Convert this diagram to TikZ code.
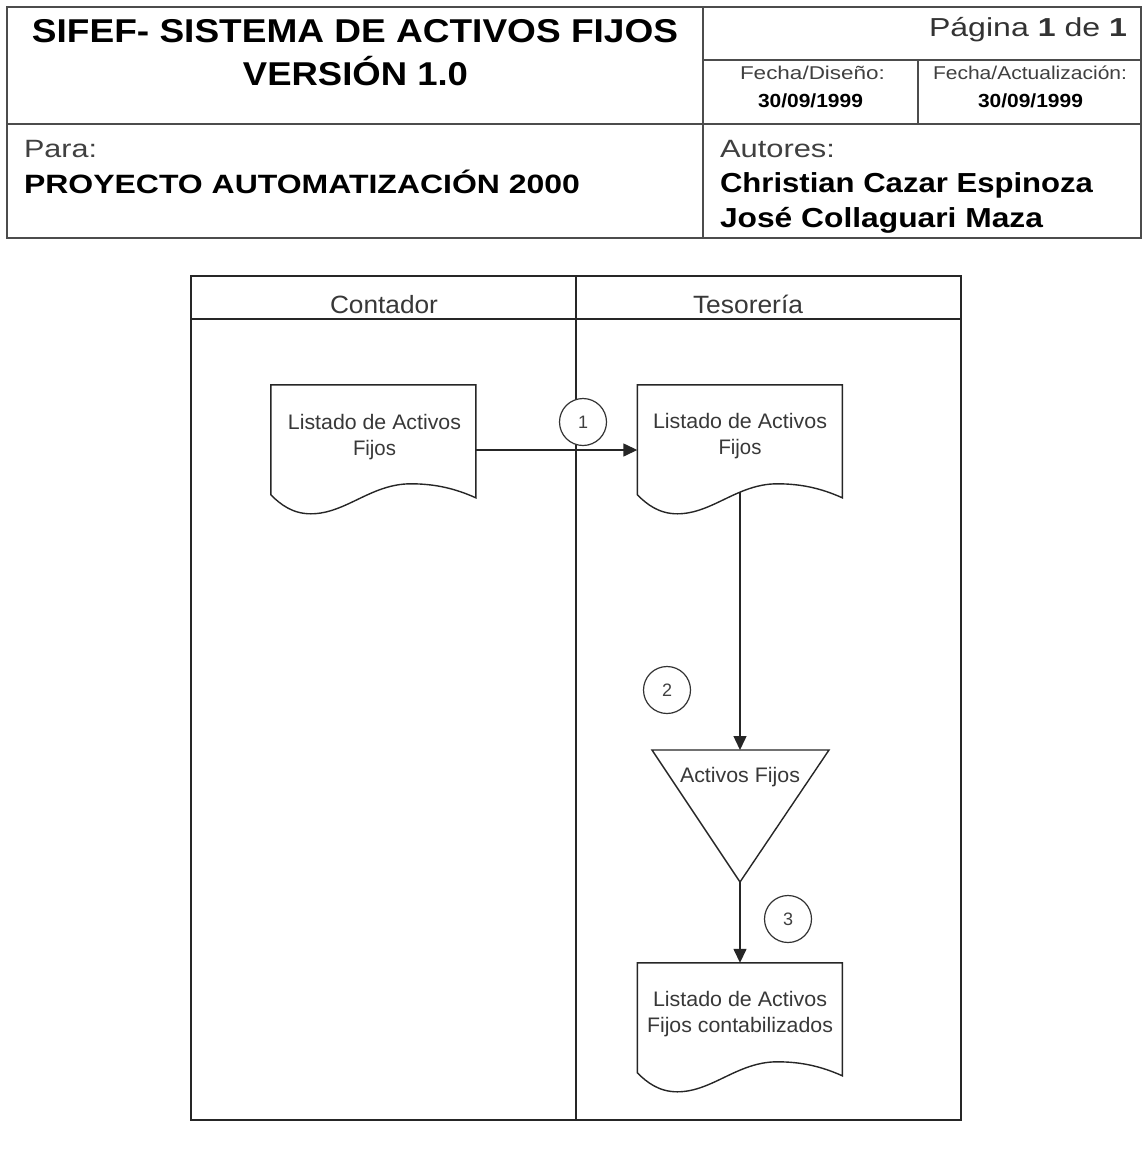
\documentclass[tikz,border=0pt]{standalone}
\usepackage{fontspec}
\setmainfont{Liberation Sans}
\usepackage{graphicx}
\usetikzlibrary{arrows.meta}
\newcommand\fitw[3]{\resizebox{#1pt}{\height}{\fontsize{#2pt}{#2pt}\selectfont #3}}
\newcommand\docoutline[1]{%
  \begin{scope}[shift={(#1.north west)}]
    \draw[dline, fill=white] (0,0) -- (205,0) -- (205,113)
      .. controls (185,104) and (165,99) .. (140,99)
      .. controls (100,99) and (75,129) .. (40,129)
      .. controls (22,129) and (10,120) .. (0,110) -- cycle;
  \end{scope}}
\begin{document}
\begin{tikzpicture}[x=1pt,y=-1pt,
  hline/.style={line width=1.8pt, draw=black!70},
  dline/.style={line width=1.4pt, draw=black!85},
  txt/.style={inner sep=0pt, outer sep=0pt, text=black!78},
  htxt/.style={inner sep=0pt, outer sep=0pt, text=black},
  flow/.style={dline, -{Triangle[length=14pt,width=13pt]}},
  num/.style={circle, draw=black!80, line width=1.2pt, fill=white, minimum size=47pt, inner sep=0pt, text=black!75, font=\fontsize{18pt}{18pt}\selectfont},
  docbox/.style={rectangle, draw=none, minimum width=205pt, minimum height=130pt, inner sep=0pt}]
\fill[white] (0,0) rectangle (1143,1152);
\useasboundingbox (0,0) rectangle (1143,1152);

% ---------- header ----------
\draw[hline] (7,7) rectangle (1141,238);
\draw[hline] (703,7) -- (703,238);
\draw[hline] (7,124) -- (1141,124);
\draw[hline] (703,60) -- (1141,60);
\draw[hline] (918,60) -- (918,124);

\node[htxt, anchor=base] (title1) at (355,42) {\fitw{646}{33}{\bfseries SIFEF- SISTEMA DE ACTIVOS FIJOS}};
\node[htxt, anchor=base] (title2) at (355.5,85) {\fitw{225}{33}{\bfseries VERSIÓN 1.0}};
\node[htxt, anchor=base east, text=black!80] (pag) at (1127,36) {\fitw{198}{26}{Página \textbf{1} de \textbf{1}}};
\node[htxt, anchor=base, text=black!75] (fd) at (812.5,79) {\fitw{145}{18.5}{Fecha/Diseño:}};
\node[htxt, anchor=base] (fdv) at (810.5,107) {\fitw{105}{19}{\bfseries 30/09/1999}};
\node[htxt, anchor=base, text=black!75] (fa) at (1030,79) {\fitw{194}{18.5}{Fecha/Actualización:}};
\node[htxt, anchor=base] (fav) at (1030.5,107) {\fitw{105}{19}{\bfseries 30/09/1999}};
\node[htxt, anchor=base west, text=black!75] (para) at (24,157) {\fitw{73}{25}{Para:}};
\node[htxt, anchor=base west] (proy) at (24,193) {\fitw{556}{26.5}{\bfseries PROYECTO AUTOMATIZACIÓN 2000}};
\node[htxt, anchor=base west, text=black!75] (aut) at (720,157) {\fitw{115}{25}{Autores:}};
\node[htxt, anchor=base west] (a1) at (720,192) {\fitw{373}{27.5}{\bfseries Christian Cazar Espinoza}};
\node[htxt, anchor=base west] (a2) at (720,227) {\fitw{323}{27.5}{\bfseries José Collaguari Maza}};

% ---------- swimlanes ----------
\draw[dline] (191,276) rectangle (961,1120);
\draw[dline] (191,319) -- (961,319);
\draw[dline] (576,276) -- (576,1120);
\node[txt, anchor=base] (lane1) at (384,313) {\fitw{108}{25}{Contador}};
\node[txt, anchor=base] (lane2) at (748,313) {\fitw{110}{25}{Tesorería}};

% ---------- node frames ----------
\node[docbox] (d1) at (373.5,450) {};
\node[docbox] (d2) at (740,450) {};
\node[docbox] (d3) at (740,1028) {};
\coordinate (t1n) at (740,750);
\coordinate (t1s) at (740,882);

% ---------- connectors ----------
\draw[flow] (d1.east) -- (d2.west);
\draw[flow] (d2.center) -- (t1n);
\draw[flow] (t1s) -- (d3.north);

% ---------- shapes ----------
\docoutline{d1}
\docoutline{d2}
\docoutline{d3}
\draw[dline, fill=white] (652,750) -- (829,750) -- (t1s) -- cycle;

\node[num] (c1) at (583,422) {1};
\node[num] (c2) at (667,690) {2};
\node[num] (c3) at (788,919) {3};

% ---------- texts ----------
\node[txt, anchor=base] (d1a) at (374.5,429) {\fitw{173}{21}{Listado de Activos}};
\node[txt, anchor=base] (d1b) at (374.5,455) {\fitw{43}{21}{Fijos}};
\node[txt, anchor=base] (d2a) at (740,428) {\fitw{174}{21}{Listado de Activos}};
\node[txt, anchor=base] (d2b) at (740,454) {\fitw{43}{21}{Fijos}};
\node[txt, anchor=base] (t1) at (740,782) {\fitw{120}{21}{Activos Fijos}};
\node[txt, anchor=base] (d3a) at (740,1006) {\fitw{174}{21}{Listado de Activos}};
\node[txt, anchor=base] (d3b) at (740,1032) {\fitw{186}{21}{Fijos contabilizados}};
\end{tikzpicture}
\end{document}
